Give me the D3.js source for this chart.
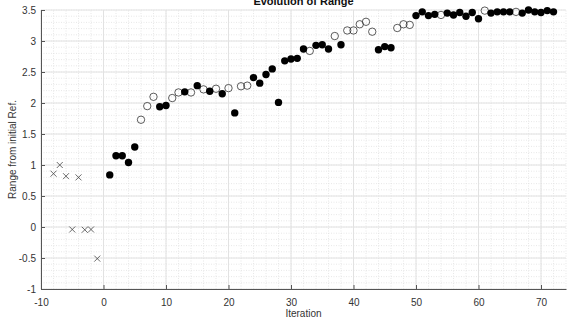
<!DOCTYPE html>
<html lang="en">
<head>
<meta charset="utf-8">
<title>Evolution of Range</title>
<script src="https://cdn.jsdelivr.net/npm/d3@7"></script>
<style>
  body { margin: 0; background: #fff; }
  text { font-family: "Liberation Sans", Arial, sans-serif; }
</style>
</head>
<body>
<script>
// crosses (iterations before start)
var crossIter = [-8, -7, -6, -5, -4, -3, -2, -1];
var crossVal  = [0.86, 1.0, 0.82, -0.04, 0.80, -0.045, -0.04, -0.51];

// filled circles
var fillIter = [1, 2, 3, 4, 5, 9, 10, 13, 15, 17, 19, 21, 24, 25, 26, 27, 28, 29, 30, 31, 32, 34, 35, 36, 38,
                44, 45, 46, 50, 51, 52, 53, 55, 56, 57, 58, 59, 60, 62, 63, 64, 65, 67, 68, 69, 70, 71, 72];
var fillVal  = [0.84, 1.15, 1.15, 1.04, 1.29, 1.94, 1.96, 2.18, 2.28, 2.19, 2.15, 1.84, 2.41, 2.32, 2.46, 2.55, 2.01, 2.68, 2.71, 2.72, 2.87, 2.93, 2.94, 2.87, 2.94,
                2.86, 2.91, 2.89, 3.41, 3.47, 3.41, 3.43, 3.45, 3.42, 3.46, 3.40, 3.46, 3.36, 3.45, 3.47, 3.47, 3.47, 3.45, 3.50, 3.47, 3.46, 3.49, 3.47];

// open circles
var openIter = [6, 7, 8, 11, 12, 14, 16, 18, 20, 22, 23, 33, 37, 39, 40, 41, 42, 43, 47, 48, 49, 54, 61, 66];
var openVal  = [1.73, 1.95, 2.1, 2.08, 2.17, 2.17, 2.22, 2.23, 2.24, 2.27, 2.28, 2.84, 3.08, 3.17, 3.17, 3.27, 3.31, 3.15, 3.21, 3.27, 3.26, 3.42, 3.49, 3.47];

var xTicks = [-10, 0, 10, 20, 30, 40, 50, 60, 70];
var yTicks = [-1, -0.5, 0, 0.5, 1, 1.5, 2, 2.5, 3, 3.5];

var width = 570, height = 326;
var margin = {left: 41, right: 4, top: 10, bottom: 37};

var svg = d3.select("body").append("svg")
  .attr("width", width)
  .attr("height", height);

var x = d3.scaleLinear().domain([-10, 74]).range([margin.left, width - margin.right]);
var y = d3.scaleLinear().domain([-1, 3.5]).range([height - margin.bottom, margin.top]);

// minor grid
var grid = svg.append("g");
grid.selectAll(".mx").data(d3.range(-10, 75, 2)).enter().append("line")
  .attr("x1", d => x(d)).attr("x2", d => x(d))
  .attr("y1", y(-1)).attr("y2", y(3.5))
  .attr("stroke", "#dedede").attr("stroke-width", 0.7).attr("stroke-dasharray", "1,1.5");
grid.selectAll(".my").data(d3.range(-10, 36, 1).map(d => d / 10)).enter().append("line")
  .attr("x1", x(-10)).attr("x2", x(74))
  .attr("y1", d => y(d)).attr("y2", d => y(d))
  .attr("stroke", "#dedede").attr("stroke-width", 0.7).attr("stroke-dasharray", "1,1.5");

// major grid
grid.selectAll(".gx").data(xTicks).enter().append("line")
  .attr("x1", d => x(d)).attr("x2", d => x(d))
  .attr("y1", y(-1)).attr("y2", y(3.5))
  .attr("stroke", "#e2e2e2").attr("stroke-width", 1);
grid.selectAll(".gy").data(yTicks).enter().append("line")
  .attr("x1", x(-10)).attr("x2", x(74))
  .attr("y1", d => y(d)).attr("y2", d => y(d))
  .attr("stroke", "#e2e2e2").attr("stroke-width", 1);

// axes (ticks inside), plain hyphen for negatives like the original
var xAxis = svg.append("g")
  .attr("transform", "translate(0," + y(-1) + ")")
  .call(d3.axisBottom(x).tickValues(xTicks).tickSizeInner(-4).tickSizeOuter(0).tickPadding(8)
    .tickFormat(d => String(d)));
var yAxis = svg.append("g")
  .attr("transform", "translate(" + x(-10) + ",0)")
  .call(d3.axisLeft(y).tickValues(yTicks).tickSizeInner(-4).tickSizeOuter(0).tickPadding(5)
    .tickFormat(d => String(d)));

[xAxis, yAxis].forEach(function(a) {
  a.select(".domain").attr("stroke", "#555").attr("stroke-width", 1);
  a.selectAll(".tick line").attr("stroke", "#555");
  a.selectAll(".tick text").attr("fill", "#333").attr("font-size", 10)
    .attr("font-family", "'Liberation Sans', Arial, sans-serif");
});
xAxis.selectAll(".tick text").attr("dy", "0.9em");

// markers
svg.append("g").selectAll("path").data(crossIter).enter().append("path")
  .attr("d", function(d, i) {
    var cx = x(d), cy = y(crossVal[i]), s = 3;
    return "M" + (cx - s) + "," + (cy - s) + "L" + (cx + s) + "," + (cy + s) +
           "M" + (cx - s) + "," + (cy + s) + "L" + (cx + s) + "," + (cy - s);
  })
  .attr("stroke", "#444").attr("stroke-width", 0.8).attr("fill", "none");

svg.append("g").selectAll("circle").data(openIter).enter().append("circle")
  .attr("cx", d => x(d)).attr("cy", (d, i) => y(openVal[i]))
  .attr("r", 3.7).attr("fill", "none").attr("stroke", "#333").attr("stroke-width", 0.8);

svg.append("g").selectAll("circle").data(fillIter).enter().append("circle")
  .attr("cx", d => x(d)).attr("cy", (d, i) => y(fillVal[i]))
  .attr("r", 3.7).attr("fill", "#000");

// labels
svg.append("text")
  .attr("x", (x(-10) + x(74)) / 2).attr("y", 5)
  .attr("text-anchor", "middle").attr("font-size", 11).attr("font-weight", "bold")
  .attr("fill", "#111")
  .text("Evolution of Range");

svg.append("text")
  .attr("x", (x(-10) + x(74)) / 2).attr("y", 317)
  .attr("text-anchor", "middle").attr("font-size", 10).attr("fill", "#333")
  .text("Iteration");

svg.append("text")
  .attr("transform", "translate(16," + y(1.25) + ") rotate(-90)")
  .attr("text-anchor", "middle").attr("font-size", 10).attr("fill", "#333")
  .text("Range from initial Ref.");
</script>
</body>
</html>
